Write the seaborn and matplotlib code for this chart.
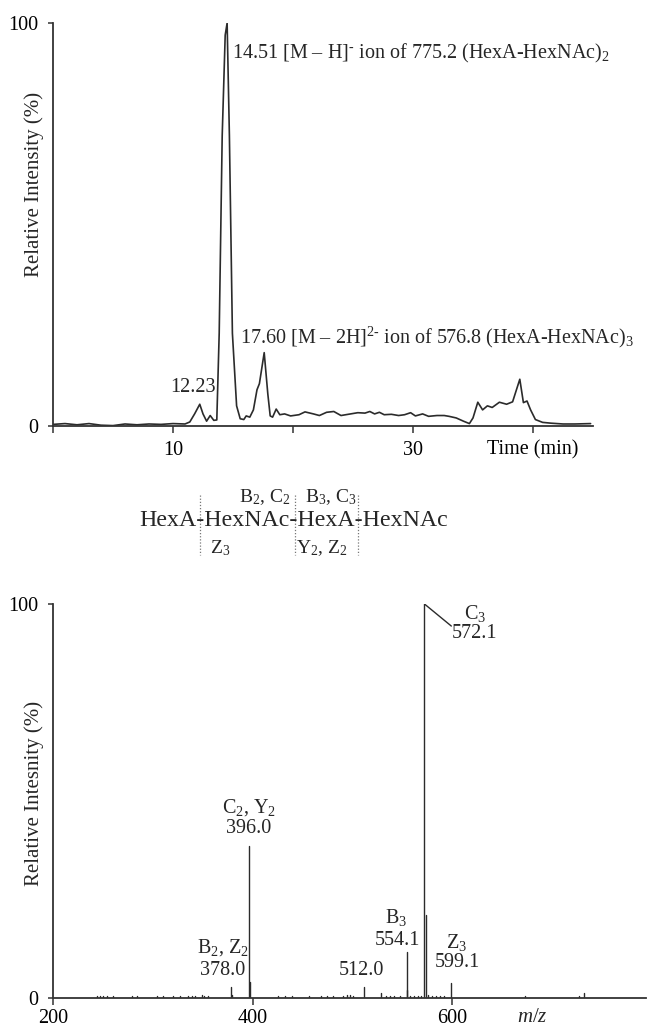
import numpy as np
import pandas as pd
import matplotlib
matplotlib.use("Agg")
import matplotlib.pyplot as plt
import matplotlib.transforms as mtrans
from matplotlib.lines import Line2D
import seaborn as sns

# ---------------- data: extracted ion chromatogram ----------------
time_min = [0.0, 1.0, 2.0, 3.0, 4.0, 5.0, 6.0, 7.0, 8.0, 9.0, 10.0, 11.0, 11.4, 11.8,
            12.23, 12.5, 12.8, 13.1, 13.4, 13.65, 13.85, 14.1, 14.35, 14.51, 14.7, 14.95,
            15.3, 15.6, 15.9, 16.1, 16.4, 16.7, 17.0, 17.2, 17.6, 17.9, 18.1, 18.3, 18.6,
            18.9, 19.3, 19.8, 20.5, 21.0, 21.7, 22.2, 22.8, 23.4, 24.0, 24.8, 25.4, 26.0,
            26.4, 26.8, 27.2, 27.6, 28.2, 28.8, 29.3, 29.8, 30.2, 30.8, 31.3, 32.0, 32.6,
            33.0, 33.6, 34.2, 34.7, 35.0, 35.4, 35.8, 36.2, 36.6, 37.2, 37.8, 38.3, 38.9,
            39.2, 39.5, 39.8, 40.2, 40.8, 41.5, 42.5, 43.5, 44.8]
intensity_pct = [0.4, 0.6, 0.3, 0.6, 0.2, 0.1, 0.5, 0.3, 0.5, 0.4, 0.6, 0.5, 1.0, 3.0,
                 5.4, 3.0, 1.2, 2.6, 1.4, 1.5, 23.0, 72.0, 97.0, 100.0, 72.0, 23.0,
                 5.0, 1.8, 1.6, 2.5, 2.2, 4.0, 9.0, 10.5, 18.2, 8.0, 2.5, 2.2, 4.2,
                 2.8, 3.0, 2.5, 2.8, 3.5, 3.0, 2.6, 3.4, 3.6, 2.6, 3.0, 3.3, 3.2,
                 3.6, 3.0, 3.4, 2.8, 2.9, 2.6, 2.8, 3.3, 2.5, 3.0, 2.4, 2.6, 2.6,
                 2.4, 2.0, 1.2, 0.6, 2.0, 5.9, 4.0, 5.0, 4.6, 5.9, 5.4, 6.0, 11.6,
                 5.8, 6.2, 4.0, 1.6, 0.9, 0.7, 0.5, 0.5, 0.6]

# ---------------- data: MS/MS spectrum ----------------
mz = [244, 247, 250, 254, 260, 279, 284, 304, 310, 320, 327, 335, 339, 342, 349, 351,
      355, 378.0, 379, 396.0, 397, 425, 432, 439, 456, 468, 474, 480, 490, 494, 498,
      501, 512.0, 529, 534, 538, 542, 548, 554.1, 555, 558, 562, 566, 569, 572.1, 573.2,
      576, 580, 584, 588, 592, 599.1, 673, 727, 732]
ms_int = [0.4, 0.4, 0.4, 0.4, 0.4, 0.5, 0.4, 0.4, 0.4, 0.4, 0.4, 0.5, 0.5, 0.4, 0.7, 0.6,
          0.4, 2.8, 0.8, 38.6, 4.0, 0.5, 0.5, 0.6, 0.5, 0.4, 0.4, 0.4, 0.6, 0.7, 0.8,
          0.6, 2.8, 1.2, 0.5, 0.6, 0.5, 0.6, 11.6, 2.0, 0.6, 0.5, 0.5, 0.6, 100.0, 21.0,
          0.7, 0.5, 0.5, 0.4, 0.4, 3.8, 0.4, 0.5, 1.2]

top_xticks = [0, 10, 20, 30, 40]
top_xticklabels = ["", "10", "", "30", "Time (min)"]
bot_xticks = [200, 400, 600]
bot_xticklabels = ["200", "400", "600"]

# ---------------- style ----------------
sns.set_style("ticks")
plt.rcParams['font.family'] = ['Liberation Serif', 'DejaVu Serif']
plt.rcParams['mathtext.fontset'] = 'custom'
plt.rcParams['mathtext.rm'] = 'Liberation Serif'
plt.rcParams['mathtext.it'] = 'Liberation Serif:italic'
plt.rcParams['mathtext.bf'] = 'Liberation Serif:bold'

W, H = 647, 1028
fig = plt.figure(figsize=(W / 100, H / 100), dpi=100)
ax1 = fig.add_axes([53 / W, 1 - 426 / H, 540 / W, 403 / H])
ax2 = fig.add_axes([53 / W, 1 - 998 / H, 593 / W, 394 / H])

line_c = "#2b2b2b"
spine_c = "#333333"
HY = "\u2010"

# ---------------- top chromatogram ----------------
sns.lineplot(x=time_min, y=intensity_pct, ax=ax1, color=line_c, lw=1.2, sort=False)
ax1.set_xlim(0, 45)
ax1.set_ylim(0, 100)
ax1.set_xticks(top_xticks)
ax1.set_xticklabels(top_xticklabels)
ax1.set_yticks([0, 100])
ax1.set_yticklabels(["0", "100"])

ax1.text(14.95, 92.4,
         "14.51 [M – H]$^{\\mathregular{" + HY + "}}$ ion of 775.2 (HexA-HexNAc)$_{\\mathregular{2}}$",
         fontsize=14.5, ha="left", va="center")
ax1.text(15.6, 21.9,
         "17.60 [M – 2H]$^{\\mathregular{2" + HY + "}}$ ion of 576.8 (HexA-HexNAc)$_{\\mathregular{3}}$",
         fontsize=14.5, ha="left", va="center")
ax1.text(11.7, 9.5, "12.23", fontsize=14.5, ha="center", va="center")
ax1.set_ylabel("Relative Intensity (%)", fontsize=15)
ax1.yaxis.set_label_coords(-0.017, 0.60)
ax1.set_xlabel("")

# ---------------- bottom spectrum ----------------
stick = pd.DataFrame({
    "pid": np.repeat(np.arange(len(mz)), 2),
    "mz": np.repeat(mz, 2),
    "inten": np.ravel(np.column_stack([np.zeros(len(ms_int)), ms_int])),
})
sns.lineplot(data=stick, x="mz", y="inten", units="pid", estimator=None, ax=ax2,
             color=line_c, lw=1.0, sort=False)
ax2.set_xlim(200, 794)
ax2.set_ylim(0, 100)
ax2.set_xticks(bot_xticks)
ax2.set_xticklabels(bot_xticklabels)
ax2.set_yticks([0, 100])
ax2.set_yticklabels(["0", "100"])
ax2.set_xlabel("")
ax2.set_ylabel("Relative Intesnity (%)", fontsize=15)
ax2.yaxis.set_label_coords(-0.015, 0.52)

fs = 14.5
ax2.text(396, 48.4, r"C$_{\mathregular{2}}$, Y$_{\mathregular{2}}$", fontsize=fs, ha="center", va="center")
ax2.text(396, 43.0, "396.0", fontsize=fs, ha="center", va="center")
ax2.text(370, 12.7, r"B$_{\mathregular{2}}$, Z$_{\mathregular{2}}$", fontsize=fs, ha="center", va="center")
ax2.text(370, 7.1, "378.0", fontsize=fs, ha="center", va="center")
ax2.text(509, 7.1, "512.0", fontsize=fs, ha="center", va="center")
ax2.text(544, 20.5, r"B$_{\mathregular{3}}$", fontsize=fs, ha="center", va="center")
ax2.text(545, 14.7, "554.1", fontsize=fs, ha="center", va="center")
ax2.text(604.6, 14.2, r"Z$_{\mathregular{3}}$", fontsize=fs, ha="center", va="center")
ax2.text(604.6, 9.1, "599.1", fontsize=fs, ha="center", va="center")
ax2.text(623, 97.5, r"C$_{\mathregular{3}}$", fontsize=fs, ha="center", va="center")
ax2.text(622, 92.4, "572.1", fontsize=fs, ha="center", va="center")
ax2.plot([572.1, 599], [100, 94.4], color=line_c, lw=1.0)
trans = mtrans.blended_transform_factory(ax2.transData, ax2.transAxes)
ax2.text(680, -0.05, "$m/z$", fontsize=15, ha="center", va="center", transform=trans)

for ax, xpad in ((ax1, 5.5), (ax2, 3.0)):
    sns.despine(ax=ax)
    for s in ("left", "bottom"):
        ax.spines[s].set_color(spine_c)
        ax.spines[s].set_linewidth(1.3)
    ax.tick_params(axis="x", direction="out", length=5, width=1.1, pad=xpad,
                   labelsize=14.5, colors=spine_c, labelcolor="black")
    ax.tick_params(axis="y", direction="out", length=3.6, width=1.1, pad=7,
                   labelsize=14.5, colors=spine_c, labelcolor="black")

# ---------------- structure diagram ----------------
fig.text(294 / W, 1 - 520 / H, "HexA-HexNAc-HexA-HexNAc", fontsize=17.2,
         ha="center", va="center")
for xp in (200, 295, 358):
    fig.add_artist(Line2D([xp / W, xp / W], [1 - 495 / H, 1 - 555 / H],
                          transform=fig.transFigure, color="#777777",
                          lw=0.9, linestyle=(0, (1, 1.5))))
sfs = 14
fig.text(290 / W, 1 - 497 / H, r"B$_{\mathregular{2}}$, C$_{\mathregular{2}}$", fontsize=sfs,
         ha="right", va="center")
fig.text(331 / W, 1 - 497 / H, r"B$_{\mathregular{3}}$, C$_{\mathregular{3}}$", fontsize=sfs,
         ha="center", va="center")
fig.text(220 / W, 1 - 548 / H, r"Z$_{\mathregular{3}}$", fontsize=sfs, ha="center", va="center")
fig.text(322 / W, 1 - 548 / H, r"Y$_{\mathregular{2}}$, Z$_{\mathregular{2}}$", fontsize=sfs,
         ha="center", va="center")

fig.savefig("out.png", dpi=100)
